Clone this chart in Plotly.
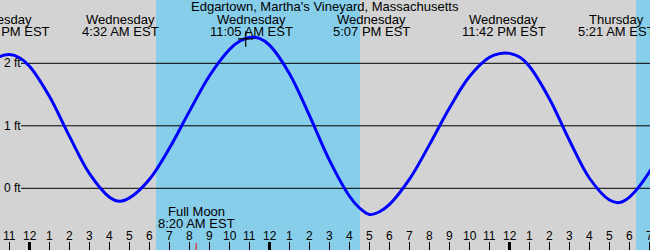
import plotly.graph_objects as go

W, H = 650, 250

# ---- data (hours relative to Wednesday 00:00 EST, heights in ft) ----
curve_hours = [-2, -1.5, -1, -0.5, 0, 1, 2, 3, 4, 4.5, 5, 6, 7, 8, 9, 10, 10.5, 11, 11.5,
               12, 13, 14, 15, 16, 16.5, 17, 17.5, 18, 19, 20, 21, 22, 23, 23.5, 24,
               24.5, 25, 26, 27, 28, 29, 29.5, 30, 31, 32]
curve_feet = [1.99, 2.105, 2.14, 2.09, 1.954, 1.469, 0.831, 0.234, -0.142, -0.207, -0.153,
              0.146, 0.644, 1.235, 1.801, 2.221, 2.352, 2.414, 2.399,
              2.291, 1.834, 1.162, 0.447, -0.127, -0.315, -0.42, -0.375, -0.258,
              0.146, 0.699, 1.286, 1.788, 2.096, 2.155, 2.159,
              2.10, 1.949, 1.43, 0.765, 0.161, -0.188, -0.228, -0.141, 0.263, 0.886]

extreme_hours = [-1.125, 4.533, 11.083, 17.117, 23.7, 29.35]
extreme_days = ["Tuesday", "Wednesday", "Wednesday", "Wednesday", "Wednesday", "Thursday"]
extreme_times = ["10:52 PM EST", "4:32 AM EST", "11:05 AM EST", "5:07 PM EST",
                 "11:42 PM EST", "5:21 AM EST"]

daylight_start = [6.325, 30.325]
daylight_end = [16.525, 31.2]

grid_feet = [0, 1, 2]
grid_labels = ["0 ft", "1 ft", "2 ft"]

tick_hours = list(range(-1, 32))
tick_labels = ["11", "12", "1", "2", "3", "4", "5", "6", "7", "8", "9", "10", "11",
               "12", "1", "2", "3", "4", "5", "6", "7", "8", "9", "10", "11",
               "12", "1", "2", "3", "4", "5", "6", "7"]

moon_hour = 8.333
moon_label = ["Full Moon", "8:20 AM EST"]

now_hour = [10.81]
now_feet = [2.39]

title = "Edgartown, Martha's Vineyard, Massachusetts"

# ---- axes mapping ----
X0, X1 = -1.475, 31.025
Y0, Y1 = -0.987, 3.013
def py(px):  # pixel y -> paper
    return 1 - px / H
def hx(px):
    return X0 + (X1 - X0) * px / W

FONT = "Liberation Sans, Arial, sans-serif"
GREY = "#d3d3d3"
SKY = "#87ceeb"

fig = go.Figure()
fig.add_trace(go.Scatter(x=curve_hours, y=curve_feet, mode="lines",
                         line=dict(color="#0000ff", width=3, shape="spline", smoothing=1.0),
                         hoverinfo="skip"))
fig.add_trace(go.Scatter(x=now_hour, y=now_feet, mode="markers",
                         marker=dict(symbol="cross-thin", size=11,
                                     line=dict(color="black", width=1.2)),
                         hoverinfo="skip"))

shapes = []
for s, e in zip(daylight_start, daylight_end):
    shapes.append(dict(type="rect", xref="x", yref="paper", x0=s, x1=e, y0=0, y1=1,
                       fillcolor=SKY, line=dict(width=0), layer="below"))
for g in grid_feet:
    shapes.append(dict(type="line", xref="x", yref="y", x0=hx(21), x1=X1, y0=g, y1=g,
                       line=dict(color="black", width=1), layer="below"))
for h, lab in zip(tick_hours, tick_labels):
    thick = lab == "12"
    shapes.append(dict(type="line", xref="x", yref="paper", x0=h, x1=h,
                       y0=py(250), y1=py(242),
                       line=dict(color="black", width=3 if thick else 1)))
shapes.append(dict(type="line", xref="x", yref="paper", x0=moon_hour, x1=moon_hour,
                   y0=py(250), y1=py(243), line=dict(color="red", width=1)))

ann = []
ann.append(dict(text=title, x=0.5, xref="paper", y=py(6.8), yref="paper",
                showarrow=False, xanchor="center", yanchor="middle",
                font=dict(size=13, color="black", family=FONT)))
for h, d, t in zip(extreme_hours, extreme_days, extreme_times):
    ann.append(dict(text=d, x=h, xref="x", y=py(19.5), yref="paper", showarrow=False,
                    xanchor="center", yanchor="middle",
                    font=dict(size=13, color="black", family=FONT)))
    ann.append(dict(text=t, x=h, xref="x", y=py(31.3), yref="paper", showarrow=False,
                    xanchor="center", yanchor="middle",
                    font=dict(size=13, color="black", family=FONT)))
for g, lab in zip(grid_feet, grid_labels):
    ann.append(dict(text=lab, x=2 / W, xref="paper", y=g, yref="y", showarrow=False,
                    xanchor="left", yanchor="middle",
                    font=dict(size=12, color="black", family=FONT)))
for h, lab in zip(tick_hours, tick_labels):
    ann.append(dict(text=lab, x=h, xref="x", y=py(235.8), yref="paper", showarrow=False,
                    xanchor="center", yanchor="middle",
                    font=dict(size=12, color="black", family=FONT)))
ann.append(dict(text=moon_label[0], x=moon_hour, xref="x", y=py(211.5), yref="paper",
                showarrow=False, xanchor="center", yanchor="middle",
                font=dict(size=13, color="black", family=FONT)))
ann.append(dict(text=moon_label[1], x=moon_hour, xref="x", y=py(223.6), yref="paper",
                showarrow=False, xanchor="center", yanchor="middle",
                font=dict(size=13, color="black", family=FONT)))

fig.update_layout(
    width=W, height=H, margin=dict(l=0, r=0, t=0, b=0, pad=0),
    paper_bgcolor=GREY, plot_bgcolor=GREY, showlegend=False,
    xaxis=dict(range=[X0, X1], visible=False, fixedrange=True),
    yaxis=dict(range=[Y0, Y1], visible=False, fixedrange=True),
    shapes=shapes, annotations=ann,
)
fig.write_html("out.html", config={"displayModeBar": False})
